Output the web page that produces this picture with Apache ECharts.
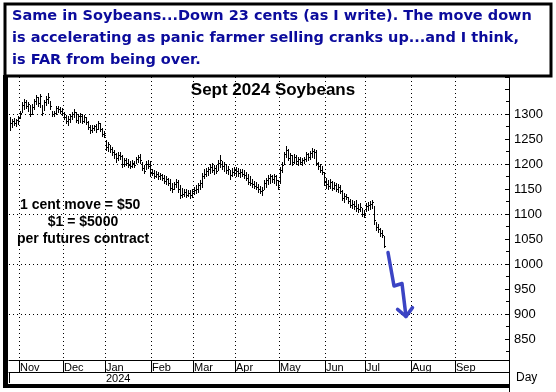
<!DOCTYPE html>
<html><head><meta charset="utf-8">
<script src="https://cdn.jsdelivr.net/npm/echarts@6/dist/echarts.min.js"></script>
<style>html,body{margin:0;padding:0;background:#fff}#c{width:556px;height:392px}</style>
</head><body><div id="c"></div>
<script>
// ---------- text ----------
const headline = [
  'Same in Soybeans...Down 23 cents (as I write). The move down',
  'is accelerating as panic farmer selling cranks up...and I think,',
  'is FAR from being over.'
];
const chartTitle = 'Sept 2024 Soybeans';
const noteLines = ['1 cent move = $50', '$1 = $5000', 'per futures contract'];
const monthNames = ['Jan','Feb','Mar','Apr','May','Jun','Jul','Aug','Sep','Oct','Nov','Dec'];
const xAxisName = 'Day';

// ---------- data (cents / bushel), one bar per trading day starting 2023-10-25 ----------
const lows = [1268,1274,1278,1276,1280,1292,1305,1310,1312,1306,1296,1300,1310,1320,1316,1315,1298,1308,1318,1322,
  1310,1296,1297,1300,1305,1303,1298,1290,1282,1278,1284,1290,1294,1285,1283,1285,1281,1284,1280,1270,
  1262,1264,1268,1264,1270,1267,1256,1255,1228,1226,1225,1218,1212,1205,1208,1210,1195,1196,1198,1195,
  1192,1195,1194,1202,1205,1203,1188,1182,1190,1192,1175,1178,1172,1174,1171,1170,1168,1162,1160,1158,
  1148,1145,1150,1155,1145,1132,1134,1136,1134,1136,1132,1135,1140,1142,1144,1150,1155,1172,1175,1178,
  1182,1185,1180,1182,1188,1195,1190,1186,1182,1180,1170,1176,1178,1175,1176,1174,1176,1172,1168,1160,
  1158,1155,1152,1150,1145,1142,1138,1150,1155,1160,1162,1164,1162,1158,1150,1162,1185,1200,1215,1208,
  1200,1198,1202,1200,1198,1200,1198,1202,1206,1208,1210,1215,1212,1198,1190,1184,1180,1158,1152,1150,
  1152,1148,1150,1146,1145,1142,1128,1125,1130,1122,1114,1112,1110,1106,1104,1106,1096,1094,1106,1108,
  1110,1112,1080,1068,1064,1056,1054,1034];
const highs = [1295,1290,1292,1290,1296,1306,1325,1330,1328,1324,1318,1320,1330,1338,1334,1340,1318,1328,1336,1342,
  1326,1306,1307,1316,1316,1314,1312,1305,1298,1296,1300,1305,1310,1304,1300,1302,1300,1299,1295,1286,
  1278,1278,1279,1280,1286,1282,1272,1266,1248,1244,1238,1235,1228,1222,1225,1224,1218,1212,1212,1210,
  1206,1208,1206,1215,1218,1220,1205,1198,1206,1208,1206,1190,1188,1186,1184,1182,1180,1178,1176,1172,
  1170,1162,1164,1170,1168,1158,1152,1150,1150,1148,1148,1150,1155,1158,1162,1168,1182,1190,1192,1194,
  1200,1202,1198,1198,1208,1218,1206,1204,1200,1196,1188,1192,1194,1195,1192,1190,1191,1188,1184,1180,
  1176,1170,1166,1164,1160,1156,1155,1168,1172,1178,1180,1178,1180,1178,1168,1195,1205,1225,1236,1230,
  1222,1218,1220,1218,1215,1214,1212,1215,1225,1222,1226,1232,1230,1228,1205,1200,1196,1185,1172,1168,
  1170,1166,1164,1162,1160,1158,1148,1142,1140,1134,1130,1128,1126,1128,1120,1122,1112,1108,1122,1125,
  1126,1129,1116,1085,1080,1072,1068,1056];
const closes = [1282,1286,1282,1288,1292,1302,1318,1325,1316,1320,1300,1315,1326,1334,1322,1337,1302,1324,1330,1334,
  1316,1300,1303,1312,1310,1307,1302,1294,1286,1291,1296,1300,1304,1289,1296,1297,1287,1294,1284,1275,
  1268,1273,1276,1270,1281,1271,1260,1259,1235,1240,1230,1224,1219,1212,1218,1216,1200,1208,1203,1199,
  1196,1202,1198,1210,1214,1208,1192,1186,1201,1197,1185,1182,1176,1180,1175,1178,1172,1166,1170,1163,
  1152,1150,1160,1165,1150,1138,1140,1145,1138,1142,1138,1146,1148,1150,1158,1162,1176,1180,1186,1190,
  1195,1188,1192,1186,1202,1208,1196,1200,1188,1190,1178,1185,1188,1186,1182,1184,1180,1178,1172,1165,
  1162,1160,1156,1154,1150,1146,1148,1162,1168,1172,1175,1170,1176,1168,1155,1188,1198,1220,1228,1212,
  1218,1204,1214,1206,1210,1204,1208,1210,1220,1214,1222,1226,1224,1202,1196,1188,1184,1165,1160,1156,
  1164,1152,1158,1150,1154,1146,1132,1136,1134,1126,1118,1120,1116,1112,1110,1114,1100,1098,1116,1118,
  1120,1124,1088,1074,1070,1062,1058,1036];

// projected move drawn as a hand-sketched arrow (trading-day index, cents)
const arrowIdx = [189, 192, 196, 198];
const arrowVal = [1023, 956, 961, 895];

// axis settings
const gridLevels = [900, 1000, 1100, 1200, 1300];
const yMin = 808, yMax = 1374;
const yLabelMin = 850, yLabelMax = 1300;
const firstDay = [2023, 9, 25], lastDay = [2024, 9, 8];
const lastLabeledMonth = '2024-09';

// ---------- build trading-day categories ----------
const days = [];
for (let d = new Date(Date.UTC(...firstDay)); d.getTime() <= Date.UTC(...lastDay); d.setUTCDate(d.getUTCDate() + 1)) {
  const wd = d.getUTCDay();
  if (wd !== 0 && wd !== 6) days.push(d.toISOString().slice(0, 10));
}
const isMonthStart = (i) => i > 0 && days[i].slice(5, 7) !== days[i - 1].slice(5, 7) && days[i].slice(0, 7) <= lastLabeledMonth;
const isYearStart = (i) => i > 0 && days[i].slice(0, 4) !== days[i - 1].slice(0, 4);

const barData = lows.map((l, i) => [i, l, highs[i], closes[i]]);
const arrowData = arrowIdx.map((x, i) => [x, arrowVal[i]]);

const chart = echarts.init(document.getElementById('c'), null, {renderer: 'canvas'});

function renderBar(params, api) {
  const i = api.value(0);
  const lo = api.coord([i, api.value(1)]);
  const hi = api.coord([i, api.value(2)]);
  const cl = api.coord([i, api.value(3)]);
  const x = Math.round(lo[0]) + 0.5;
  const cy = Math.round(cl[1]) + 0.5;
  return {type: 'group', children: [
    {type: 'line', shape: {x1: x, y1: Math.round(hi[1]), x2: x, y2: Math.round(lo[1]) + 1}, style: {stroke: '#000', lineWidth: 1}},
    {type: 'line', shape: {x1: x, y1: cy, x2: x + 1.5, y2: cy}, style: {stroke: '#000', lineWidth: 1}}
  ]};
}

function renderArrow(params, api) {
  if (params.dataIndex !== 0) return null;
  const pts = arrowData.map(p => api.coord(p));
  const n = pts.length;
  const tip = pts[n - 1], prev = pts[n - 2];
  const ang = Math.atan2(prev[1] - tip[1], prev[0] - tip[0]);
  const L = 11, spread = 0.75;
  const w1 = [tip[0] + L * Math.cos(ang + spread), tip[1] + L * Math.sin(ang + spread)];
  const w2 = [tip[0] + L * Math.cos(ang - spread), tip[1] + L * Math.sin(ang - spread)];
  const st = {stroke: '#3b44c4', lineWidth: 3.5, fill: null, lineJoin: 'round', lineCap: 'round'};
  return {type: 'group', children: [
    {type: 'polyline', shape: {points: pts}, style: st},
    {type: 'polyline', shape: {points: [w1, tip, w2]}, style: st}
  ]};
}

const headlineStyle = {fill: '#0b0b9c', font: 'bold 14.5px "DejaVu Sans", Verdana, sans-serif'};
const noteStyle = {fill: '#000', font: 'bold 14px "Liberation Sans", Arial, sans-serif'};

chart.setOption({
  animation: false,
  backgroundColor: '#fff',
  grid: {left: 9, right: 47, top: 77, bottom: 32, containLabel: false},
  xAxis: [{
    type: 'category', data: days, boundaryGap: true, position: 'bottom',
    axisLine: {show: true, lineStyle: {color: '#000', width: 1}},
    axisTick: {show: true, interval: (i) => isMonthStart(i), length: 12, lineStyle: {color: '#000'}},
    axisLabel: {interval: (i) => isMonthStart(i), formatter: (v) => monthNames[+v.slice(5, 7) - 1],
      align: 'left', margin: 2, fontSize: 11, color: '#000', fontFamily: '"Liberation Sans", Arial, sans-serif'},
    splitLine: {show: true, interval: (i) => isMonthStart(i), lineStyle: {color: '#000', type: [1, 3], width: 1}}
  }, {
    type: 'category', data: days, boundaryGap: true, position: 'bottom', offset: 12,
    axisLine: {show: true, lineStyle: {color: '#000', width: 1}},
    axisTick: {show: true, interval: (i) => isYearStart(i), length: 11, lineStyle: {color: '#000'}},
    axisLabel: {interval: (i) => isYearStart(i), formatter: (v) => v.slice(0, 4),
      align: 'left', margin: 1, fontSize: 11, color: '#000', fontFamily: '"Liberation Sans", Arial, sans-serif'},
    splitLine: {show: false}
  }],
  yAxis: {
    type: 'value', position: 'right', min: yMin, max: yMax, splitNumber: 11,
    axisLine: {show: true, lineStyle: {color: '#000', width: 1}},
    axisTick: {show: true, inside: true, length: 4, lineStyle: {color: '#000'}},
    minorTick: {show: true, splitNumber: 2, length: 3, lineStyle: {color: '#000'}},
    axisLabel: {color: '#000', fontSize: 13, margin: 5, showMinLabel: false, showMaxLabel: false,
      fontFamily: '"Liberation Sans", Arial, sans-serif',
      formatter: (v) => (v >= yLabelMin && v <= yLabelMax && v % 50 === 0) ? String(v) : ''},
    splitLine: {show: false}
  },
  series: [{
    type: 'custom', name: 'Sept 2024 Soybeans', xAxisIndex: 0, renderItem: renderBar, data: barData,
    encode: {x: 0, y: [1, 2, 3]}, clip: false,
    markLine: {silent: true, symbol: 'none', animation: false, label: {show: false},
      lineStyle: {color: '#000', type: [1, 3], width: 1},
      data: gridLevels.map(v => ({yAxis: v}))}
  }, {
    type: 'custom', name: 'projection', xAxisIndex: 0, renderItem: renderArrow, data: arrowData,
    encode: {x: 0, y: 1}, z: 5
  }],
  graphic: [
    {type: 'rect', z: 10, shape: {x: 5, y: 4, width: 546, height: 72}, style: {fill: '#fff', stroke: '#000', lineWidth: 3}},
    ...headline.map((t, k) => ({type: 'text', z: 11, x: 12, y: 16 + 22 * k,
      style: Object.assign({text: t, verticalAlign: 'middle', align: 'left'}, headlineStyle)})),
    {type: 'text', z: 11, x: 273, y: 90, style: {text: chartTitle, align: 'center', verticalAlign: 'middle', fill: '#000',
      font: 'bold 17px "Liberation Sans", Arial, sans-serif'}},
    {type: 'text', z: 11, x: 20, y: 205, style: Object.assign({text: noteLines[0], align: 'left', verticalAlign: 'middle'}, noteStyle)},
    {type: 'text', z: 11, x: 83, y: 222, style: Object.assign({text: noteLines[1], align: 'center', verticalAlign: 'middle'}, noteStyle)},
    {type: 'text', z: 11, x: 17, y: 239, style: Object.assign({text: noteLines[2], align: 'left', verticalAlign: 'middle'}, noteStyle)},
    {type: 'rect', z: 10, shape: {x: 3, y: 75, width: 5, height: 313}, style: {fill: '#000'}},
    {type: 'rect', z: 10, shape: {x: 3, y: 384, width: 507, height: 4}, style: {fill: '#000'}},
    {type: 'line', z: 10, shape: {x1: 509.5, y1: 360, x2: 509.5, y2: 392}, style: {stroke: '#000', lineWidth: 1}},
    {type: 'text', z: 11, x: 516, y: 378, style: {text: xAxisName, align: 'left', verticalAlign: 'middle', fill: '#000',
      font: '12px "Liberation Sans", Arial, sans-serif'}}
  ]
});
</script></body></html>
